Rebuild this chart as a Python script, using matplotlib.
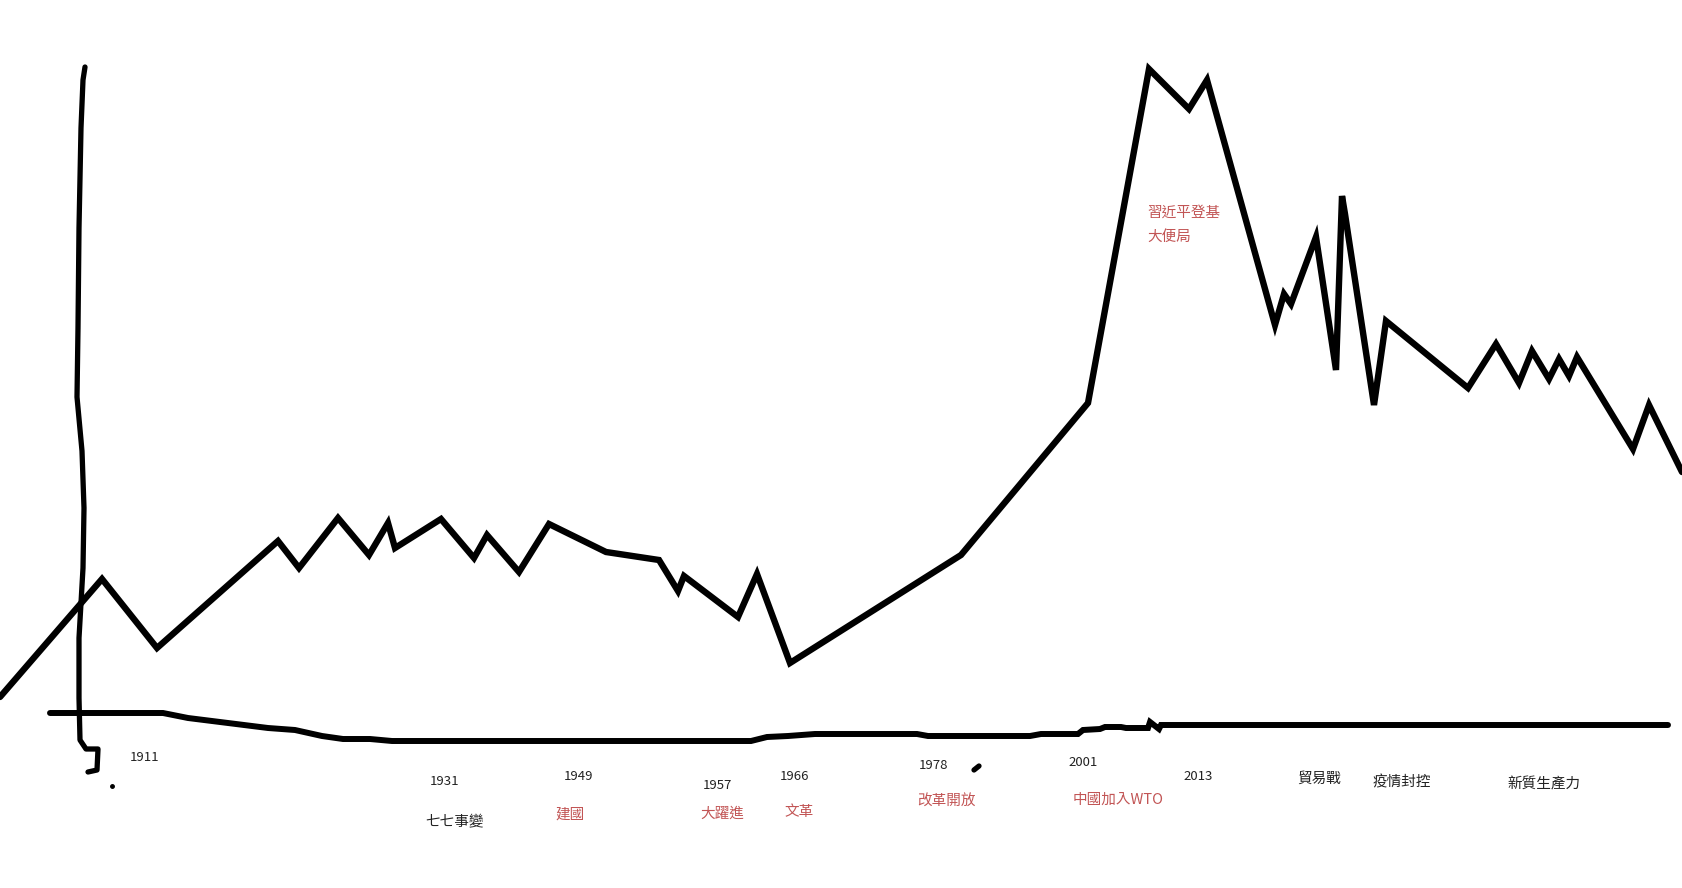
import matplotlib
matplotlib.use("Agg")
import matplotlib.pyplot as plt

plt.rcParams['font.family'] = ['Noto Sans CJK TC', 'DejaVu Sans']

# Main trend line (horizontal position, level)
trend_x = [0, 102, 157, 278, 299, 338, 369, 388, 395, 441, 474, 487, 519, 549, 606,
           659, 678, 684, 738, 757, 790, 961, 1088, 1149, 1189, 1207, 1275, 1284,
           1291, 1316, 1336, 1342, 1345, 1374, 1386, 1468, 1496, 1519, 1532, 1549,
           1559, 1569, 1577, 1633, 1649, 1682]
trend_y = [191, 309, 240, 347, 320, 370, 333, 365, 340, 369, 330, 353, 316, 364, 336,
           328, 297, 312, 271, 314, 225, 333, 485, 819, 779, 808, 563, 594,
           584, 651, 518, 692, 674, 483, 567, 500, 544, 505, 537, 509,
           529, 512, 531, 439, 483, 416]

# Hand-drawn baseline (x axis)
base_x = [50, 163, 188, 220, 268, 295, 322, 343, 370, 392, 751, 767, 788, 815, 917,
          928, 1030, 1041, 1078, 1083, 1100, 1105, 1121, 1126, 1148, 1150, 1159, 1161, 1668]
base_y = [175, 175, 170, 166, 160, 158, 152, 149, 149, 147, 147, 151, 152, 154, 154,
          152, 152, 154, 154, 158, 159, 161, 161, 160, 160, 166, 159, 163, 163]

# Hand-drawn vertical axis
vax_x = [85, 83, 81, 79, 78, 77, 82, 84, 83, 79, 79, 80, 86, 98, 97, 88]
vax_y = [821, 808, 760, 660, 560, 491, 437, 380, 320, 250, 190, 148, 139, 139, 118, 116]

# Year labels (text, x, level)
years = ['1911', '1931', '1949', '1957', '1966', '1978', '2001', '2013']
year_x = [145, 445, 579, 717, 795, 934, 1083, 1198]
year_y = [131, 107, 112, 103, 112, 123, 126, 112]

# Event labels
events = ['七七事變', '建國', '大躍進', '文革', '改革開放', '中國加入WTO', '貿易戰', '疫情封控', '新質生產力']
event_x = [455, 570, 722, 799, 946, 1118, 1319, 1402, 1544]
event_y = [66, 73, 74, 76, 87, 88, 109, 106, 104]
event_red = [False, True, True, True, True, True, False, False, False]

peak_lines = ['習近平登基', '大便局']
peak_x = [1147, 1147]
peak_y = [675, 651]

RED = '#c25555'
DARK = '#222222'

fig = plt.figure(figsize=(16.82, 8.88), dpi=100)
ax = fig.add_axes([0, 0, 1, 1])
ax.set_xlim(0, 1682)
ax.set_ylim(0, 888)
ax.axis('off')

kw = dict(color='black', solid_capstyle='round', solid_joinstyle='miter')
ax.plot(trend_x, trend_y, lw=4.6, **kw)
ax.plot(base_x, base_y, lw=4.3, **kw)
ax.plot(vax_x, vax_y, lw=3.8, solid_capstyle='round', solid_joinstyle='round', color='black')
ax.plot([112], [102], marker='o', ms=2.5, color='black')
ax.plot([974, 979], [118, 122], lw=3.8, color='black', solid_capstyle='round')

for t, x, y in zip(years, year_x, year_y):
    ax.text(x, y, t, fontsize=9.5, color=DARK, ha='center', va='center')
for t, x, y, r in zip(events, event_x, event_y, event_red):
    ax.text(x, y, t, fontsize=10.5, color=RED if r else DARK, ha='center', va='center')
for t, x, y in zip(peak_lines, peak_x, peak_y):
    ax.text(x, y, t, fontsize=10.5, color=RED, ha='left', va='center')

fig.savefig('out.png', dpi=100, facecolor='white')
